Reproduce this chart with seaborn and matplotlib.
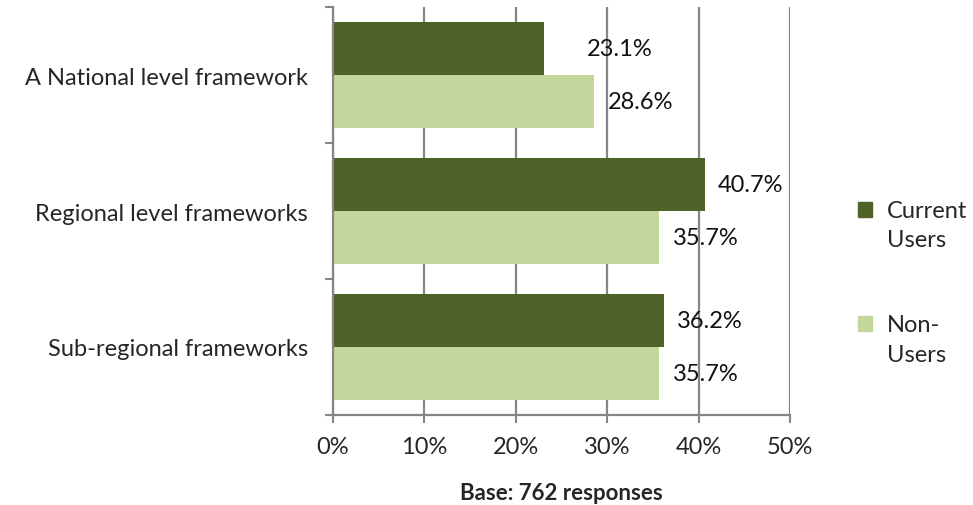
import pandas as pd
import matplotlib.pyplot as plt
import seaborn as sns
from matplotlib.ticker import MultipleLocator, FixedLocator, PercentFormatter
from matplotlib.legend_handler import HandlerPatch

categories = ['A National level framework', 'Regional level frameworks', 'Sub-regional frameworks']
current_users = [23.1, 40.7, 36.2]
non_users = [28.6, 35.7, 35.7]
groups = ['Current\nUsers', 'Non-\nUsers']

df = pd.DataFrame({
    'framework': categories * 2,
    'value': current_users + non_users,
    'group': [groups[0]] * 3 + [groups[1]] * 3,
})

sns.set_style('white')
plt.rcParams['font.family'] = ['Lato', 'DejaVu Sans']

dark = '#4F6228'
light = '#C3D69B'
grey = '#868686'
fs = 17

fig = plt.figure(figsize=(9.73, 5.06), dpi=100)
ax = fig.add_axes([0.3422, 0.178, 0.4697, 0.806])

sns.barplot(data=df, y='framework', x='value', hue='group', orient='h',
            palette=[dark, light], saturation=1, width=0.78, linewidth=0,
            ax=ax, legend=False)

# value labels
for i, cont in enumerate(ax.containers):
    labels = ax.bar_label(cont, fmt='%.1f%%', padding=9.5, fontsize=fs, color='#111111')
    if i == 0:
        labels[0].xyann = (31, 0)  # excel put this one further right

ax.set_xlim(0, 50)
ax.set_ylim(2.5, -0.5)
ax.xaxis.set_major_locator(MultipleLocator(10))
ax.xaxis.set_major_formatter(PercentFormatter(decimals=0))
ax.grid(axis='x', color=grey, linewidth=1.6)
ax.set_axisbelow(True)

# category boundary ticks
ax.yaxis.set_minor_locator(FixedLocator([-0.5, 0.5, 1.5, 2.5]))
ax.tick_params(axis='y', which='major', length=0, pad=18, labelsize=fs)
ax.tick_params(axis='y', which='minor', length=6, width=1.5, color=grey, direction='out', left=True)
ax.tick_params(axis='x', length=6, width=1.5, color=grey, direction='out', bottom=True, labelsize=fs, pad=9)

for s in ['top', 'right']:
    ax.spines[s].set_visible(False)
for s in ['left', 'bottom']:
    ax.spines[s].set_color(grey)
    ax.spines[s].set_linewidth(1.6)

ax.set_ylabel('')
ax.set_xlabel('Base: 762 responses', fontsize=16, fontweight='bold', labelpad=18)


def top_square(legend, orig_handle, xdescent, ydescent, width, height, fontsize):
    # square next to the first line of the label, like excel does
    return plt.Rectangle((-xdescent, -ydescent + 0.68 * fontsize), width, height)


handles = [plt.Rectangle((0, 0), 1, 1, color=c) for c in [dark, light]]
leg = fig.legend(handles, groups, loc='center left', bbox_to_anchor=(0.872, 0.44),
                 frameon=False, fontsize=fs, handlelength=0.6, handleheight=0.6,
                 handletextpad=0.64, labelspacing=2.7, borderaxespad=0,
                 handler_map={plt.Rectangle: HandlerPatch(patch_func=top_square)})
for t in leg.get_texts():
    t.set_linespacing(1.5)

fig.savefig('out.png', dpi=100)
